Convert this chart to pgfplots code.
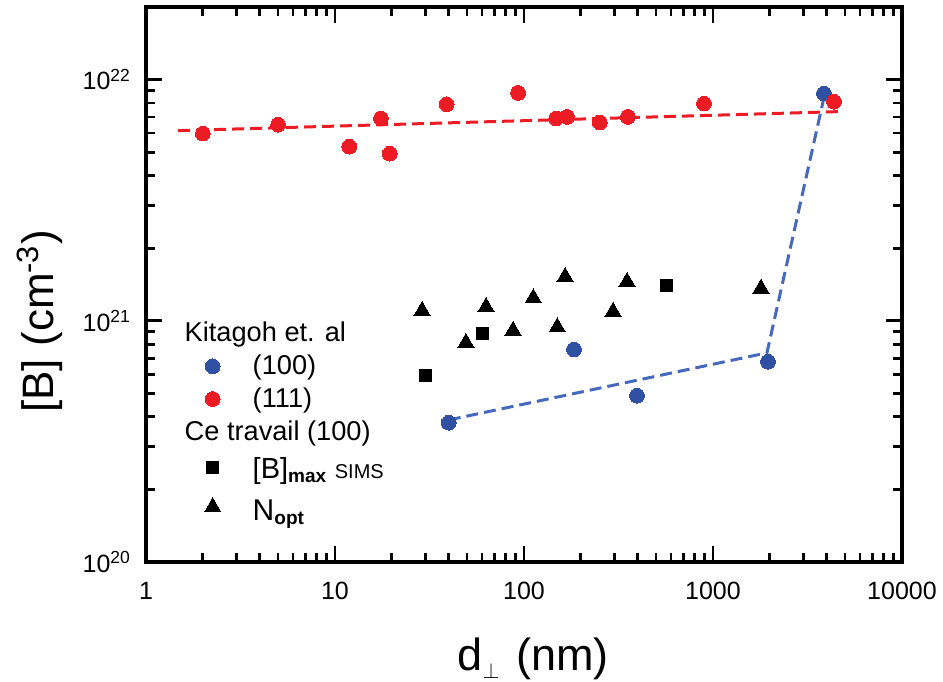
\documentclass[border=0pt]{standalone}
\usepackage{fontspec}
\setmainfont{Liberation Sans}
\usepackage{pgfplots}
\pgfplotsset{compat=1.18}
\definecolor{myred}{RGB}{237,28,36}
\definecolor{myblue}{RGB}{48,80,163}
\definecolor{lineblue}{RGB}{70,105,190}
\begin{document}
\begin{tikzpicture}
\begin{axis}[
  at={(0,0)}, anchor=south west,
  scale only axis, width=378pt, height=277.5pt,
  xmode=log, ymode=log,
  xmin=1, xmax=10000, ymin=1e20, ymax=2e22,
  axis line style={line width=2pt},
  every tick/.style={black, line width=1.4pt},
  major tick length=8pt, minor tick length=4.5pt,
  xtick={1,10,100,1000,10000},
  xticklabels={1,10,100,1000,10000},
  minor xtick={2,3,4,5,6,7,8,9,20,30,40,50,60,70,80,90,200,300,400,500,600,700,800,900,2000,3000,4000,5000,6000,7000,8000,9000},
  ytick={1e20,1e21,1e22},
  yticklabels={10\textsuperscript{20},10\textsuperscript{21},10\textsuperscript{22}},
  minor ytick={2e20,3e20,4e20,5e20,6e20,7e20,8e20,9e20,2e21,3e21,4e21,5e21,6e21,7e21,8e21,9e21},
  ticklabel style={font=\fontsize{12.5}{14}\selectfont},
  xticklabel style={yshift=-6.5pt},
  yticklabel style={xshift=-4pt},
  every axis x label/.style={at={(axis description cs:0.512,-0.196)}, anchor=base},
  every axis y label/.style={at={(axis description cs:-0.1217,0.4333)}, rotate=90, anchor=base},
  xlabel={\fontsize{22.5}{28}\selectfont d\raisebox{-4pt}{\fontsize{11}{11}\selectfont$\perp$}\hspace{2pt} (nm)},
  ylabel={\fontsize{22}{26}\selectfont [B] (cm\textsuperscript{-3})},
  legend style={at={(axis description cs:0.056,0.447)}, anchor=north west, draw=none, fill=none,
    font=\fontsize{13.6}{15}\selectfont, row sep=1pt},
  legend cell align=left,
  legend image code/.code={\path[draw=none,fill=none] (0pt,0pt) -- (27pt,0pt);\draw[mark repeat=2,mark phase=2,#1] plot coordinates {(0pt,0pt) (9pt,0pt) (18pt,0pt)};},
]
% fit lines
\addplot[forget plot, myred, line width=1.5pt, dash pattern=on 6pt off 3pt] coordinates {(1.48,6.14e21) (4580,7.36e21)};
\addplot[forget plot, lineblue, line width=1.5pt, dash pattern=on 6pt off 3pt] coordinates {(40,3.88e20) (1930,7.36e20) (3850,8.3e21)};

\addlegendimage{empty legend}
\addlegendentry{\hspace*{-34pt}Kitagoh et. al}

\addplot[only marks, mark=*, mark size=3.7pt, mark options={fill=myblue, draw=myblue, line width=0pt}] coordinates {
(40,3.78e20) (184,7.6e20) (396,4.89e20) (1954,6.76e20) (3870,8.75e21)};
\addlegendentry{(100)}

\addplot[only marks, mark=*, mark size=3.7pt, mark options={fill=myred, draw=myred, line width=0pt}] coordinates {
(2,5.97e21) (5,6.5e21) (11.9,5.27e21) (17.5,6.9e21) (19.5,4.93e21) (39,7.9e21) (93,8.8e21) (148,6.9e21) (169,7.0e21) (252,6.64e21) (355,7.0e21) (896,7.95e21) (4365,8.1e21)};
\addlegendentry{(111)}

\addlegendimage{empty legend}
\addlegendentry{\hspace*{-34pt}Ce travail (100)}

\addplot[only marks, mark=square*, mark size=3pt, mark options={fill=black, draw=black, line width=0pt}] coordinates {
(30.3,5.92e20) (60,8.83e20) (571,1.40e21)};
\addlegendentry{\rule{0pt}{12.5pt}{\fontsize{14.5}{16}\selectfont [B]}\textsubscript{\textbf{max}} {\fontsize{10}{11}\selectfont SIMS}}

\addplot[only marks, mark=triangle*, mark size=4.7pt, mark options={fill=black, draw=black, line width=0pt}] coordinates {
(28.9,1.10e21) (49.3,8.1e20) (63,1.14e21) (87.5,9.1e20) (112,1.24e21) (150,9.4e20) (165,1.52e21) (296,1.09e21) (351,1.45e21) (1795,1.36e21)};
\addlegendentry{\rule{0pt}{14.5pt}{\fontsize{15}{16}\selectfont N}\textsubscript{\textbf{opt}}}
\end{axis}
\pgfresetboundingbox
\path[use as bounding box] (-73pt,-59.5pt) rectangle (398.5pt,281pt);
\end{tikzpicture}
\end{document}
